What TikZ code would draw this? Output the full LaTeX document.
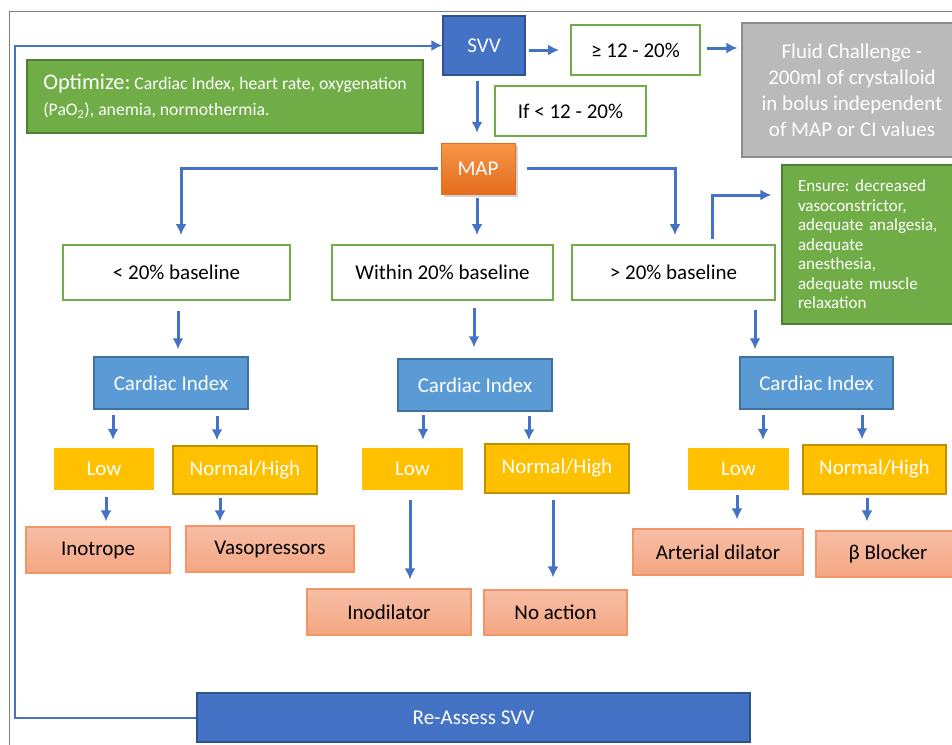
\documentclass[tikz,border=0pt]{standalone}
\usepackage{fontspec}
\setmainfont{Carlito}
\usepackage{tikz}
\usetikzlibrary{arrows.meta,shadows}
\usepackage{xcolor}
\definecolor{myblue}{RGB}{68,114,196}
\definecolor{myblueline}{RGB}{47,82,143}
\definecolor{mylightblue}{RGB}{91,155,213}
\definecolor{mylightblueline}{RGB}{65,113,156}
\definecolor{mygreen}{RGB}{112,173,71}
\definecolor{mygreenline}{RGB}{80,126,50}
\definecolor{mygrey}{RGB}{186,186,186}
\definecolor{mygreyline}{RGB}{140,140,140}
\definecolor{myorangetop}{RGB}{247,150,72}
\definecolor{myorangebot}{RGB}{228,108,30}
\definecolor{mygold}{RGB}{255,192,0}
\definecolor{mygoldline}{RGB}{191,144,0}
\definecolor{mysalmontop}{RGB}{247,190,166}
\definecolor{mysalmonbot}{RGB}{244,166,130}
\definecolor{mysalmonline}{RGB}{241,150,100}
\frenchspacing
\tikzset{
  >=latex, % default arrow head
  arr/.style={-{Latex[length=11,width=11]},line width=3,myblue}, % flow arrows
}

\begin{document}
\begin{tikzpicture}[x=1pt, y=-1pt, font=\fontsize{21}{25}\selectfont]

% Styles
\tikzstyle{box} = [rectangle, inner sep=0pt, align=center]
\tikzstyle{svv box} = [box, fill=myblue, draw=myblueline, line width=1.2, text=white]
\tikzstyle{test box} = [box, fill=white, draw=mygreen, line width=1.8]
\tikzstyle{note box} = [box, fill=mygreen, draw=mygreenline, line width=1.2, text=white, align=left]
\tikzstyle{fluid box} = [box, fill=mygrey, draw=mygreyline, line width=1.2, text=white,
  font=\fontsize{21}{26}\selectfont]
\tikzstyle{map box} = [box, top color=myorangetop, bottom color=myorangebot, draw=myorangebot,
  text=white, drop shadow={opacity=0.35, shadow xshift=3pt, shadow yshift=-3pt}]
\tikzstyle{ci box} = [box, fill=mylightblue, draw=mylightblueline, line width=1.4, text=white]
\tikzstyle{low box} = [box, fill=mygold, text=white]
\tikzstyle{high box} = [box, fill=mygold, draw=mygoldline, line width=1.5, text=white]
\tikzstyle{drug box} = [box, top color=mysalmontop, bottom color=mysalmonbot, draw=mysalmonline, line width=1.2]

\useasboundingbox (0,0) rectangle (952,744);
\clip (0,0) rectangle (952,744);

% Cadre
\draw[gray, line width=1] (9,11) rectangle (970,760);

% Niveau SVV
\node[svv box, minimum width=82, minimum height=59] (svv) at (484,45.5) {SVV};
\node[note box, minimum width=396, minimum height=73, font=\fontsize{17.7}{26}\selectfont]
  (opt) at (225,96.5) {{\fontsize{22.3}{26}\selectfont Optimize:} Cardiac Index, heart rate, oxygenation\\
  (PaO\textsubscript{2}), anemia, normothermia.};
\node[test box, minimum width=129, minimum height=50] (ge) at (635.5,50) {≥ 12 - 20\%};
\node[fluid box, minimum width=220, minimum height=134] (fluid) at (852,90)
  {Fluid Challenge -\\200ml of crystalloid\\in bolus independent\\of MAP or CI values};
\node[test box, minimum width=151, minimum height=50] (lt) at (570.5,111) {If < 12 - 20\%};

% MAP
\node[map box, minimum width=74, minimum height=51] (map) at (478,168.5) {MAP};

% Baseline
\node[test box, minimum width=227, minimum height=55] (b1) at (176.5,272.5) {< 20\% baseline};
\node[test box, minimum width=221, minimum height=55] (b2) at (442.5,272.5) {Within 20\% baseline};
\node[test box, minimum width=203, minimum height=55] (b3) at (673.5,272.5) {> 20\% baseline};
\node[note box, minimum width=178, minimum height=159, text width=146, font=\fontsize{17}{19.5}\selectfont]
  (ensure) at (871,244.5) {Ensure: decreased\\vasoconstrictor,\\adequate analgesia,\\adequate\\anesthesia,\\adequate muscle\\relaxation};

% Cardiac Index
\node[ci box, minimum width=154, minimum height=52] (ci1) at (171,383) {Cardiac Index};
\node[ci box, minimum width=154, minimum height=52] (ci2) at (475,385) {Cardiac Index};
\node[ci box, minimum width=153, minimum height=52] (ci3) at (816.5,383) {Cardiac Index};

% Low / Normal-High
\node[low box, minimum width=100, minimum height=42] (low1) at (104,469) {Low};
\node[high box, minimum width=144, minimum height=48] (nh1) at (245,470) {Normal/High};
\node[low box, minimum width=101, minimum height=42] (low2) at (412.5,469) {Low};
\node[high box, minimum width=144, minimum height=49] (nh2) at (557,468.5) {Normal/High};
\node[low box, minimum width=101, minimum height=42] (low3) at (738.5,469) {Low};
\node[high box, minimum width=143, minimum height=49] (nh3) at (874.5,469.5) {Normal/High};

% Traitements
\node[drug box, minimum width=144, minimum height=46] (r1) at (98,550) {Inotrope};
\node[drug box, minimum width=168, minimum height=46] (r2) at (270,549) {Vasopressors};
\node[drug box, minimum width=164, minimum height=46] (r3) at (389,612) {Inodilator};
\node[drug box, minimum width=143, minimum height=45] (r4) at (555.5,612.5) {No action};
\node[drug box, minimum width=170, minimum height=46] (r5) at (718,552) {Arterial dilator};
\node[drug box, minimum width=144, minimum height=46] (r6) at (888,554) {β Blocker};

% Re-Assess
\node[svv box, minimum width=553, minimum height=49] (re) at (473.5,717.5) {Re-Assess SVV};
\coordinate (loop) at (15,45.5);

% Connexions SVV
\draw[arr] ([xshift=3pt,yshift=-4.5pt]svv.east) -- ([xshift=-11pt]ge.west);
\draw[arr] ([xshift=6pt,yshift=2pt]ge.east) -- ([xshift=-4pt,yshift=42pt]fluid.west);
\draw[arr] ([xshift=-7pt,yshift=-5pt]svv.south) -- ([xshift=-1pt,yshift=10pt]map.north);

% Connexions MAP
\draw[arr] ([xshift=-3pt]map.west) -| ([xshift=4.5pt,yshift=9pt]b1.north);
\draw[arr] ([xshift=-1pt,yshift=-4pt]map.south) -- ([xshift=34.5pt,yshift=9pt]b2.north);
\draw[arr] ([xshift=12pt]map.east) -| ([xshift=1.5pt,yshift=9pt]b3.north);
\draw[arr] ([xshift=38.5pt,yshift=5pt]b3.north) |- ([xshift=-10pt,yshift=49.5pt]ensure.west);

% Connexions baseline -> CI
\draw[arr] ([xshift=1.5pt,yshift=-10pt]b1.south) -- ([xshift=7pt,yshift=7pt]ci1.north);
\draw[arr] ([xshift=31.5pt,yshift=-7pt]b2.south) -- ([xshift=-1pt,yshift=11pt]ci2.north);
\draw[arr] ([xshift=81.5pt,yshift=-9pt]b3.south) -- ([xshift=-61.5pt,yshift=7pt]ci3.north);

% Connexions CI -> Low / Normal-High
\draw[arr] ([xshift=-58pt,yshift=-5pt]ci1.south) -- ([xshift=9pt,yshift=8pt]low1.north);
\draw[arr] ([xshift=46pt,yshift=-6pt]ci1.south) -- ([xshift=-28pt,yshift=5pt]nh1.north);
\draw[arr] ([xshift=-52pt,yshift=-3pt]ci2.south) -- ([xshift=10.5pt,yshift=8pt]low2.north);
\draw[arr] ([xshift=54pt,yshift=-4pt]ci2.south) -- ([xshift=-28pt,yshift=3pt]nh2.north);
\draw[arr] ([xshift=-53.5pt,yshift=-5pt]ci3.south) -- ([xshift=24.5pt,yshift=8pt]low3.north);
\draw[arr] ([xshift=45.5pt,yshift=-5pt]ci3.south) -- ([xshift=-12.5pt,yshift=5pt]nh3.north);

% Connexions -> traitements
\draw[arr] ([xshift=2pt,yshift=-7pt]low1.south) -- ([xshift=8pt,yshift=5pt]r1.north);
\draw[arr] ([xshift=-25pt,yshift=-3pt]nh1.south) -- ([xshift=-50pt,yshift=4pt]r2.north);
\draw[arr] ([xshift=-2.5pt,yshift=-10pt]low2.south) -- ([xshift=21pt,yshift=9pt]r3.north);
\draw[arr] ([xshift=-4pt,yshift=-6pt]nh2.south) -- ([xshift=-2.5pt,yshift=12pt]r4.north);
\draw[arr] ([xshift=-1.5pt,yshift=-5pt]low3.south) -- ([xshift=19pt,yshift=9pt]r5.north);
\draw[arr] ([xshift=-7.5pt,yshift=-3pt]nh3.south) -- ([xshift=-21pt,yshift=9pt]r6.north);

% Boucle Re-Assess -> SVV
\draw[arr, line width=2] (re.west) -| (loop) -- (svv.west);

\end{tikzpicture}
\end{document}
